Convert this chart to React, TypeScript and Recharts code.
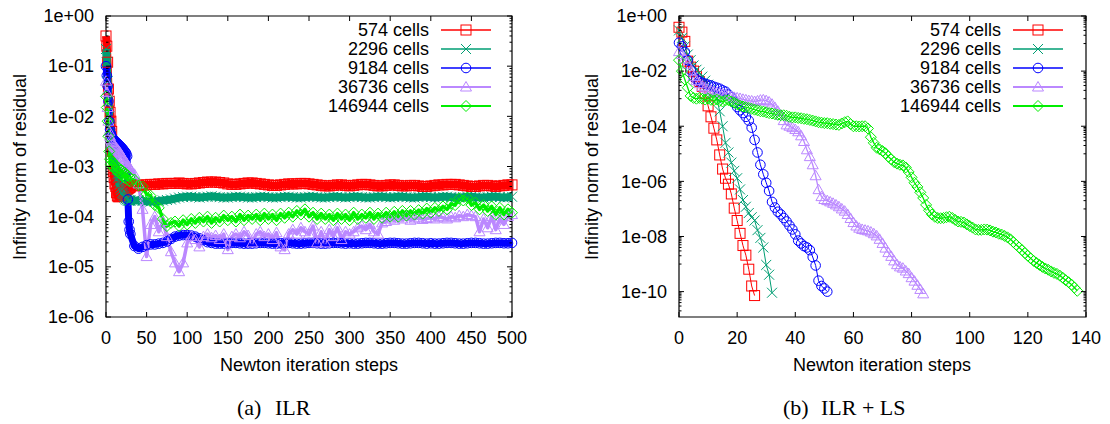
import React from 'react';
import { LineChart, Line, XAxis, YAxis, ReferenceArea, Legend } from 'recharts';

const RED = '#ff0000';
const TEAL = '#009e73';
const BLUE = '#0000ff';
const PURPLE = '#bb88ff';
const GREEN = '#00ee00';
const SANS = "'Liberation Sans', Arial, sans-serif";
const SERIF = "'Liberation Serif', 'Times New Roman', serif";

const seriesNames = ['574 cells', '2296 cells', '9184 cells', '36736 cells', '146944 cells'];

// (a) ILR -- Newton steps, sampled (every step up to 30, then every 5)
const stepsA = [
  0, 1, 2, 3, 4, 5, 6, 7, 8, 9, 10, 11, 12, 13, 14, 15, 16, 17, 18, 19, 20, 21, 22, 23, 24, 25, 26, 27, 28, 29, 30,
  35, 40, 45, 50, 55, 60, 65, 70, 75, 80, 85, 90, 95, 100,
  105, 110, 115, 120, 125, 130, 135, 140, 145, 150, 155, 160, 165, 170, 175, 180, 185, 190, 195, 200,
  205, 210, 215, 220, 225, 230, 235, 240, 245, 250, 255, 260, 265, 270, 275, 280, 285, 290, 295, 300,
  305, 310, 315, 320, 325, 330, 335, 340, 345, 350, 355, 360, 365, 370, 375, 380, 385, 390, 395, 400,
  405, 410, 415, 420, 425, 430, 435, 440, 445, 450, 455, 460, 465, 470, 475, 480, 485, 490, 495, 500,
];

const ilr574 = [
  0.4, 0.25, 0.12, 0.035, 0.02, 0.012, 0.008, 0.005, 0.002, 8e-4, 6e-4, 4.5e-4, 4e-4, 3e-4, 2.6e-4, 2.5e-4, 2.5e-4, 2.6e-4, 2.7e-4, 2.8e-4, 2.9e-4, 3e-4, 3.1e-4, 3.2e-4, 3.3e-4, 3.4e-4, 3.5e-4, 3.6e-4, 3.7e-4, 3.8e-4, 3.9e-4,
  4.1e-4, 4.2e-4, 4.3e-4, 4.3e-4, 4.4e-4, 4.4e-4, 4.5e-4, 4.5e-4, 4.6e-4, 4.6e-4, 4.6e-4, 4.7e-4, 4.6e-4, 4.5e-4,
  4.5e-4, 4.6e-4, 4.7e-4, 4.8e-4, 4.9e-4, 4.9e-4, 4.9e-4, 4.8e-4, 4.7e-4, 4.5e-4, 4.4e-4, 4.4e-4, 4.5e-4, 4.6e-4, 4.7e-4, 4.7e-4, 4.6e-4, 4.5e-4, 4.4e-4, 4.3e-4,
  4.2e-4, 4.2e-4, 4.3e-4, 4.4e-4, 4.5e-4, 4.5e-4, 4.5e-4, 4.6e-4, 4.6e-4, 4.5e-4, 4.4e-4, 4.3e-4, 4.2e-4, 4.1e-4, 4.1e-4, 4.2e-4, 4.3e-4, 4.3e-4, 4.2e-4, 4.1e-4,
  4.2e-4, 4.3e-4, 4.4e-4, 4.4e-4, 4.3e-4, 4.2e-4, 4.1e-4, 4.1e-4, 4.2e-4, 4.3e-4, 4.3e-4, 4.2e-4, 4.1e-4, 4.1e-4, 4.2e-4, 4.2e-4, 4.1e-4, 4.0e-4, 4.0e-4, 4.1e-4,
  4.2e-4, 4.3e-4, 4.3e-4, 4.4e-4, 4.4e-4, 4.4e-4, 4.3e-4, 4.2e-4, 4.1e-4, 4.0e-4, 4.0e-4, 4.1e-4, 4.2e-4, 4.2e-4, 4.1e-4, 4.0e-4, 4.1e-4, 4.2e-4, 4.3e-4, 4.3e-4,
];

const ilr2296 = [
  0.22, 0.12, 0.05, 0.02, 0.01, 6e-3, 4e-3, 3e-3, 2.3e-3, 1.8e-3, 1.4e-3, 1.2e-3, 1e-3, 8.5e-4, 7e-4, 6e-4, 5e-4, 4.4e-4, 3.8e-4, 3.4e-4, 3e-4, 2.8e-4, 2.6e-4, 2.4e-4, 2.3e-4, 2.2e-4, 2.2e-4, 2.1e-4, 2.1e-4, 2.1e-4, 2.1e-4,
  2.1e-4, 2.1e-4, 2.05e-4, 2.0e-4, 2.0e-4, 2.0e-4, 2.05e-4, 2.1e-4, 2.15e-4, 2.2e-4, 2.3e-4, 2.4e-4, 2.45e-4, 2.5e-4,
  2.5e-4, 2.45e-4, 2.4e-4, 2.45e-4, 2.5e-4, 2.55e-4, 2.5e-4, 2.45e-4, 2.4e-4, 2.4e-4, 2.45e-4, 2.5e-4, 2.5e-4, 2.45e-4, 2.4e-4, 2.4e-4, 2.45e-4, 2.5e-4, 2.5e-4, 2.45e-4,
  2.4e-4, 2.4e-4, 2.45e-4, 2.5e-4, 2.5e-4, 2.45e-4, 2.4e-4, 2.4e-4, 2.45e-4, 2.5e-4, 2.5e-4, 2.45e-4, 2.4e-4, 2.4e-4, 2.45e-4, 2.5e-4, 2.5e-4, 2.45e-4, 2.4e-4, 2.45e-4,
  2.5e-4, 2.5e-4, 2.45e-4, 2.4e-4, 2.4e-4, 2.45e-4, 2.5e-4, 2.5e-4, 2.45e-4, 2.4e-4, 2.45e-4, 2.5e-4, 2.5e-4, 2.45e-4, 2.4e-4, 2.4e-4, 2.45e-4, 2.5e-4, 2.5e-4, 2.45e-4,
  2.4e-4, 2.45e-4, 2.5e-4, 2.5e-4, 2.45e-4, 2.4e-4, 2.4e-4, 2.45e-4, 2.5e-4, 2.5e-4, 2.45e-4, 2.4e-4, 2.4e-4, 2.45e-4, 2.5e-4, 2.5e-4, 2.45e-4, 2.4e-4, 2.45e-4, 2.5e-4,
];

const ilr9184 = [
  0.1, 0.065, 0.04, 0.02, 0.008, 5.5e-3, 4.5e-3, 4e-3, 3.7e-3, 3.5e-3, 3.3e-3, 3.2e-3, 3.1e-3, 3e-3, 2.9e-3, 2.8e-3, 2.7e-3, 2.6e-3, 2.5e-3, 2.4e-3, 2.3e-3, 2.2e-3, 2.1e-3, 2e-3, 1.9e-3, 1.8e-3, 1.6e-3, 2.2e-4, 8e-5, 5.5e-5, 4.5e-5,
  2.6e-5, 2.3e-5, 2.5e-5, 2.7e-5, 2.8e-5, 2.8e-5, 2.9e-5, 3e-5, 3.2e-5, 3.6e-5, 4e-5, 4.2e-5, 4.3e-5, 4.3e-5,
  4.2e-5, 4e-5, 3.7e-5, 3.4e-5, 3.1e-5, 3e-5, 2.9e-5, 2.9e-5, 2.9e-5, 2.95e-5, 3e-5, 3e-5, 2.95e-5, 2.9e-5, 2.9e-5, 2.9e-5, 2.95e-5, 3e-5, 3e-5, 2.95e-5,
  2.9e-5, 2.9e-5, 2.95e-5, 3e-5, 3e-5, 2.95e-5, 2.9e-5, 2.9e-5, 2.95e-5, 3e-5, 3e-5, 2.95e-5, 2.9e-5, 2.9e-5, 2.95e-5, 3e-5, 3e-5, 2.95e-5, 2.9e-5, 2.95e-5,
  2.9e-5, 2.9e-5, 2.95e-5, 3e-5, 3e-5, 2.95e-5, 2.9e-5, 2.9e-5, 2.95e-5, 3e-5, 3e-5, 2.95e-5, 2.9e-5, 2.9e-5, 2.95e-5, 3e-5, 3e-5, 2.95e-5, 2.9e-5, 2.95e-5,
  2.9e-5, 2.9e-5, 2.95e-5, 3e-5, 3e-5, 2.95e-5, 2.9e-5, 2.9e-5, 2.95e-5, 3e-5, 3e-5, 2.95e-5, 2.9e-5, 2.9e-5, 2.95e-5, 3e-5, 3e-5, 2.95e-5, 2.95e-5, 3e-5,
];

const ilr36736 = [
  0.05, 0.03, 0.015, 8e-3, 5e-3, 4e-3, 3.5e-3, 3.2e-3, 3e-3, 2.8e-3, 2.6e-3, 2.5e-3, 2.4e-3, 2.3e-3, 2.2e-3, 2.1e-3, 2e-3, 1.9e-3, 1.8e-3, 1.7e-3, 1.6e-3, 1.5e-3, 1.4e-3, 1.3e-3, 1.25e-3, 1.2e-3, 1.1e-3, 1.05e-3, 1e-3, 9.5e-4, 9e-4,
  7e-4, 4.5e-4, 1.4e-4, 1.6e-5, 7e-5, 1e-4, 5e-5, 8e-5, 4e-5, 2e-5, 1.2e-5, 8e-6, 1.2e-5, 3e-5,
  4e-5, 3.5e-5, 2.5e-5, 4e-5, 4.5e-5, 3.8e-5, 4.2e-5, 3.5e-5, 4.5e-5, 2.2e-5, 4e-5, 4.5e-5, 3.8e-5, 5e-5, 4.2e-5, 3e-5, 4.5e-5, 5e-5, 4e-5, 4.5e-5,
  3.5e-5, 4.8e-5, 2.5e-5, 2.2e-5, 4.5e-5, 5.5e-5, 4.5e-5, 6e-5, 5e-5, 4.5e-5, 6.5e-5, 3e-5, 5e-5, 3e-5, 5.5e-5, 4e-5, 6e-5, 3.5e-5, 5e-5, 4.5e-5,
  5e-5, 6e-5, 6.5e-5, 5.5e-5, 7e-5, 5e-5, 4.5e-5, 7.5e-5, 8e-5, 9e-5, 8.5e-5, 9.5e-5, 9e-5, 1e-4, 8.5e-5, 9e-5, 9.5e-5, 8.8e-5, 9.2e-5, 9.5e-5,
  9e-5, 1e-4, 9.5e-5, 9e-5, 1e-4, 9.5e-5, 1.05e-4, 1e-4, 1.1e-4, 1.05e-4, 1e-4, 5e-5, 9e-5, 6e-5, 1e-4, 5.5e-5, 9e-5, 7e-5, 1e-4, 1.1e-4,
];

const ilr146944 = [
  0.025, 0.015, 8e-3, 4e-3, 2e-3, 1.4e-3, 1.1e-3, 1.3e-3, 1e-3, 1.2e-3, 9e-4, 1.1e-3, 8.5e-4, 1e-3, 8e-4, 9.5e-4, 7.5e-4, 9e-4, 7e-4, 8.5e-4, 6.5e-4, 8e-4, 6.2e-4, 7.5e-4, 6e-4, 7e-4, 5.6e-4, 6.6e-4, 5.2e-4, 6.2e-4, 5e-4,
  5.5e-4, 4.2e-4, 4e-4, 2.8e-4, 2.6e-4, 1.7e-4, 1.5e-4, 9e-5, 6.5e-5, 7.5e-5, 8e-5, 6.5e-5, 8.5e-5, 7e-5,
  9e-5, 7.5e-5, 9.5e-5, 8e-5, 1e-4, 7.5e-5, 9.5e-5, 8e-5, 1.05e-4, 8.5e-5, 1e-4, 8e-5, 1.1e-4, 8.5e-5, 1.05e-4, 9e-5, 1.1e-4, 8.5e-5, 1.15e-4, 9e-5,
  1.1e-4, 8.5e-5, 1.15e-4, 9.5e-5, 1.2e-4, 1e-4, 1.3e-4, 1.1e-4, 1.4e-4, 1e-4, 1.2e-4, 9e-5, 1.15e-4, 9e-5, 1.1e-4, 8.5e-5, 1.15e-4, 9e-5, 1.1e-4, 8.5e-5,
  1.2e-4, 9e-5, 1.1e-4, 9.5e-5, 1.2e-4, 9e-5, 1.15e-4, 9.5e-5, 1.2e-4, 1e-4, 1.25e-4, 1e-4, 1.3e-4, 1.05e-4, 1.3e-4, 1.1e-4, 1.35e-4, 1.15e-4, 1.45e-4, 1.2e-4,
  1.5e-4, 1.3e-4, 1.6e-4, 1.4e-4, 1.8e-4, 1.7e-4, 2.3e-4, 2.1e-4, 2.4e-4, 1.7e-4, 1.9e-4, 1.4e-4, 1.7e-4, 1.3e-4, 1.6e-4, 1.1e-4, 1.5e-4, 1.1e-4, 1.4e-4, 1.2e-4,
];

// (b) ILR + LS -- one value per Newton step, starting at step 0
const ls574 = [
  3.9e-1, 2.6e-1, 1.2e-1, 2.3e-2, 1.4e-2, 1e-2, 6.3e-3, 4.2e-3, 2.8e-3, 1.6e-3,
  5.5e-4, 2.2e-4, 8.5e-5, 3.2e-5, 9.1e-6, 2.8e-6, 1.3e-6, 7.9e-7, 3.5e-7, 1.07e-7,
  3.8e-8, 1.3e-8, 4.7e-9, 2.1e-9, 6.5e-10, 1.6e-10, 7.2e-11,
];

const ls2296 = [
  3.0e-1, 1.6e-1, 7.9e-2, 4.0e-2, 2.5e-2, 1.6e-2, 1.12e-2, 8.9e-3, 6.3e-3, 4.5e-3,
  3.2e-3, 2.2e-3, 1.6e-3, 1.0e-3, 3.5e-4, 1.0e-4, 2.5e-5, 1.12e-5, 4.8e-6, 2.4e-6,
  1.3e-6, 5.1e-7, 2.1e-7, 1.2e-7, 7.1e-8, 5.0e-8, 3.8e-8, 1.7e-8, 8.9e-9, 4.0e-9,
  9.3e-10, 4.1e-10, 9.1e-11,
];

const ls9184 = [
  1.07e-1, 7.9e-2, 5.0e-2, 2.5e-2, 1.12e-2, 6.3e-3, 5.0e-3, 4.2e-3, 3.8e-3, 3.5e-3,
  3.2e-3, 3.0e-3, 2.7e-3, 2.5e-3, 2.3e-3, 2.0e-3, 1.8e-3, 1.4e-3, 1.12e-3, 7.1e-4,
  5.0e-4, 3.8e-4, 3.0e-4, 2.2e-4, 1.6e-4, 8.9e-5, 3.2e-5, 1.12e-5, 4.0e-6, 1.8e-6,
  8.9e-7, 4.5e-7, 1.8e-7, 1.12e-7, 7.9e-8, 6.3e-8, 4.7e-8, 3.5e-8, 2.5e-8, 1.8e-8,
  1.2e-8, 7.1e-9, 5.6e-9, 4.5e-9, 4.0e-9, 3.2e-9, 1.8e-9, 8.9e-10, 2.5e-10, 1.6e-10,
  1.3e-10, 1.0e-10,
];

const ls36736 = [
  5.1e-2, 4.0e-2, 2.8e-2, 1.8e-2, 1.0e-2, 6.3e-3, 4.5e-3, 3.5e-3, 2.8e-3, 2.5e-3,
  2.2e-3, 2.0e-3, 1.8e-3, 1.7e-3, 1.6e-3, 1.5e-3, 1.4e-3, 1.3e-3, 1.2e-3, 1.12e-3,
  1.07e-3, 1.02e-3, 9.5e-4, 9.1e-4, 8.5e-4, 8.3e-4, 7.9e-4, 8.3e-4, 8.9e-4, 9.1e-4,
  8.5e-4, 7.6e-4, 6.3e-4, 4.8e-4, 3.5e-4, 2.5e-4, 1.6e-4, 1.12e-4, 1.0e-4, 8.9e-5,
  7.6e-5, 6.3e-5, 4.5e-5, 2.8e-5, 1.4e-5, 7.9e-6, 4.0e-6, 1.6e-6, 5.0e-7, 2.8e-7,
  2.2e-7, 2.0e-7, 1.8e-7, 1.6e-7, 1.4e-7, 1.2e-7, 1.0e-7, 8.3e-8, 6.3e-8, 4.5e-8,
  3.2e-8, 2.4e-8, 2.0e-8, 1.8e-8, 1.7e-8, 1.6e-8, 1.45e-8, 1.26e-8, 1.05e-8, 7.9e-9,
  5.6e-9, 3.8e-9, 2.6e-9, 1.9e-9, 1.3e-9, 9.5e-10, 7.9e-10, 7.1e-10, 5.6e-10, 4.5e-10,
  3.2e-10, 2.4e-10, 1.7e-10, 1.2e-10, 8.3e-11,
];

const ls146944 = [
  2.5e-2, 1.0e-2, 5.0e-3, 2.5e-3, 1.26e-3, 1.07e-3, 1.0e-3, 1.07e-3, 1.0e-3, 9.3e-4,
  1.0e-3, 9.1e-4, 8.7e-4, 9.3e-4, 8.3e-4, 7.9e-4, 8.7e-4, 8.9e-4, 7.9e-4, 7.1e-4,
  6.3e-4, 5.6e-4, 5.2e-4, 4.9e-4, 4.6e-4, 4.3e-4, 4.0e-4, 3.8e-4, 3.5e-4, 3.4e-4,
  3.2e-4, 3.0e-4, 2.9e-4, 2.75e-4, 2.6e-4, 2.5e-4, 2.5e-4, 2.4e-4, 2.2e-4, 2.1e-4,
  2.1e-4, 2.0e-4, 1.95e-4, 1.86e-4, 1.8e-4, 1.7e-4, 1.6e-4, 1.5e-4, 1.4e-4, 1.35e-4,
  1.3e-4, 1.29e-4, 1.23e-4, 1.2e-4, 1.15e-4, 1.12e-4, 1.26e-4, 1.4e-4, 1.5e-4, 1.2e-4,
  1.0e-4, 1.0e-4, 9.8e-5, 1.0e-4, 1.0e-4, 8.3e-5, 4.0e-5, 2.5e-5, 1.66e-5, 1.45e-5,
  1.26e-5, 1.05e-5, 7.9e-6, 6.3e-6, 5.0e-6, 4.4e-6, 4.0e-6, 3.8e-6, 3.2e-6, 2.2e-6,
  1.4e-6, 8.9e-7, 6.3e-7, 4.0e-7, 2.5e-7, 1.4e-7, 8.9e-8, 6.3e-8, 5.2e-8, 4.7e-8,
  4.6e-8, 4.7e-8, 5.0e-8, 5.2e-8, 4.7e-8, 4.0e-8, 3.5e-8, 3.4e-8, 3.2e-8, 2.75e-8,
  2.4e-8, 2.1e-8, 1.8e-8, 1.74e-8, 1.74e-8, 1.8e-8, 1.78e-8, 1.66e-8, 1.5e-8, 1.4e-8,
  1.26e-8, 1.17e-8, 1.05e-8, 9.3e-9, 7.9e-9, 6.3e-9, 5.0e-9, 4.0e-9, 3.2e-9, 2.5e-9,
  2.0e-9, 1.6e-9, 1.3e-9, 1.1e-9, 9.3e-10, 7.9e-10, 6.9e-10, 6.2e-10, 5.4e-10, 4.8e-10,
  4.4e-10, 3.8e-10, 3.2e-10, 2.6e-10, 2.2e-10, 1.8e-10, 1.4e-10, 1.07e-10,
];

// axes
const xTicksA = [0, 50, 100, 150, 200, 250, 300, 350, 400, 450, 500];
const xTicksB = [0, 20, 40, 60, 80, 100, 120, 140];
const yTicksA = [1, 1e-1, 1e-2, 1e-3, 1e-4, 1e-5, 1e-6];
const yLabelsA = ['1e+00', '1e-01', '1e-02', '1e-03', '1e-04', '1e-05', '1e-06'];
const yTicksB = [1, 1e-2, 1e-4, 1e-6, 1e-8, 1e-10];
const yLabelsB = ['1e+00', '1e-02', '1e-04', '1e-06', '1e-08', '1e-10'];

// gnuplot style minor tics: 2..9 per decade (a), 1..9 x 10^odd (b)
const minorA: number[] = [];
for (let e = 1; e <= 6; e++) for (let m = 2; m <= 9; m++) minorA.push(m * Math.pow(10, -e));
const minorB: number[] = [];
for (let e = 1; e <= 11; e += 2) for (let m = 1; m <= 9; m++) if (e < 11 || m > 1) minorB.push(m * Math.pow(10, -e));

type Shape = 'square' | 'cross' | 'circle' | 'triangle' | 'diamond';
const styles: { key: string; color: string; shape: Shape; bandA: number; lineB: number; legendW: number }[] = [
  { key: 's574', color: RED, shape: 'square', bandA: 8, lineB: 1, legendW: 1.3 },
  { key: 's2296', color: TEAL, shape: 'cross', bandA: 8, lineB: 1, legendW: 1.3 },
  { key: 's9184', color: BLUE, shape: 'circle', bandA: 7, lineB: 1, legendW: 1.3 },
  { key: 's36736', color: PURPLE, shape: 'triangle', bandA: 3.5, lineB: 1.3, legendW: 2 },
  { key: 's146944', color: GREEN, shape: 'diamond', bandA: 3.5, lineB: 1.3, legendW: 2 },
];

const dataA = stepsA.map((step, i) => ({
  step, s574: ilr574[i], s2296: ilr2296[i], s9184: ilr9184[i], s36736: ilr36736[i], s146944: ilr146944[i],
}));
const dataB = ls146944.map((_, step) => ({
  step, s574: ls574[step], s2296: ls2296[step], s9184: ls9184[step], s36736: ls36736[step], s146944: ls146944[step],
}));

function Marker({ shape, cx, cy, color }: { shape: Shape; cx: number; cy: number; color: string }) {
  const c = { fill: 'none', stroke: color, strokeWidth: 1 };
  switch (shape) {
    case 'square':
      return <rect x={cx - 5} y={cy - 5} width={10} height={10} {...c} />;
    case 'cross':
      return (
        <g {...c}>
          <line x1={cx - 5} y1={cy - 5} x2={cx + 5} y2={cy + 5} />
          <line x1={cx - 5} y1={cy + 5} x2={cx + 5} y2={cy - 5} />
        </g>
      );
    case 'circle':
      return <circle cx={cx} cy={cy} r={4.8} {...c} />;
    case 'triangle':
      return <polygon points={`${cx},${cy - 5.5} ${cx - 5.5},${cy + 4} ${cx + 5.5},${cy + 4}`} {...c} />;
    default:
      return <polygon points={`${cx},${cy - 5.5} ${cx + 5.5},${cy} ${cx},${cy + 5.5} ${cx - 5.5},${cy}`} {...c} />;
  }
}

interface Geom { left: number; right: number; top: number; bottom: number }

function makeXTick(g: Geom) {
  return (props: any) => {
    const { x, payload } = props;
    return (
      <g>
        <line x1={x} x2={x} y1={g.bottom} y2={g.bottom - 5} stroke="#000" />
        <line x1={x} x2={x} y1={g.top} y2={g.top + 5} stroke="#000" />
        <text x={x} y={g.bottom + 26.5} textAnchor="middle" fontFamily={SANS} fontSize={18} fill="#000">
          {payload.value}
        </text>
      </g>
    );
  };
}

function makeYTick(g: Geom, majors: number[], labels: string[]) {
  return (props: any) => {
    const { y, payload } = props;
    const idx = majors.findIndex((m) => Math.abs(Math.log10(payload.value / m)) < 1e-6);
    const len = idx >= 0 ? 5 : 2.5;
    return (
      <g>
        <line x1={g.left} x2={g.left + len} y1={y} y2={y} stroke="#000" />
        <line x1={g.right - len} x2={g.right} y1={y} y2={y} stroke="#000" />
        {idx >= 0 && (
          <text x={g.left - 12} y={y} dy="0.35em" textAnchor="end" fontFamily={SANS} fontSize={18} fill="#000">
            {labels[idx]}
          </text>
        )}
      </g>
    );
  };
}

function LegendBox({ lineX }: { lineX: number }) {
  return (
    <svg width={210} height={110} style={{ display: 'block', overflow: 'visible' }}>
      {styles.map((s, i) => {
        const y = 12 + i * 19;
        return (
          <g key={s.key}>
            <text x={lineX - 12} y={y} dy="0.35em" textAnchor="end" fontFamily={SANS} fontSize={18} fill="#000">
              {seriesNames[i]}
            </text>
            <line x1={lineX} x2={lineX + 50} y1={y} y2={y} stroke={s.color} strokeWidth={s.legendW} />
            <Marker shape={s.shape} cx={lineX + 25} cy={y} color={s.color} />
          </g>
        );
      })}
    </svg>
  );
}

function dotFor(shape: Shape, color: string) {
  return (p: any) => {
    if (p.cx == null || p.cy == null || p.value == null) return <g key={`e${p.index}`} />;
    return (
      <g key={`d${p.index}`}>
        <Marker shape={shape} cx={p.cx} cy={p.cy} color={color} />
      </g>
    );
  };
}

const geomA: Geom = { left: 106, right: 512, top: 16, bottom: 317 };
const geomB: Geom = { left: 124, right: 531, top: 16, bottom: 317 };

function PanelA() {
  return (
    <LineChart width={560} height={424} data={dataA} margin={{ top: 16, right: 48, bottom: 0, left: 0 }}>
      <XAxis type="number" dataKey="step" domain={[0, 500]} ticks={xTicksA} interval={0}
        tick={makeXTick(geomA)} tickLine={false} axisLine={false} height={107} />
      <YAxis type="number" scale="log" domain={[1e-6, 1]} ticks={[...yTicksA, ...minorA]} interval={0}
        tick={makeYTick(geomA, yTicksA, yLabelsA)} tickLine={false} axisLine={false} width={106} />
      <ReferenceArea x1={0} x2={500} y1={1e-6} y2={1} fill="none" fillOpacity={0} stroke="#000" strokeWidth={1.2} />
      {styles.map((s) => (
        <Line key={s.key} dataKey={s.key} stroke={s.color} strokeWidth={s.bandA} strokeLinejoin="round"
          dot={dotFor(s.shape, s.color)} activeDot={false} isAnimationActive={false} legendType="none" />
      ))}
      <Legend layout="horizontal" verticalAlign="middle" align="center"
        wrapperStyle={{ left: 300, top: 18, width: 210, height: 110 }}
        content={() => <LegendBox lineX={141} />} />
    </LineChart>
  );
}

function PanelB() {
  return (
    <LineChart width={555} height={424} data={dataB} margin={{ top: 16, right: 24, bottom: 0, left: 0 }}>
      <XAxis type="number" dataKey="step" domain={[0, 140]} ticks={xTicksB} interval={0}
        tick={makeXTick(geomB)} tickLine={false} axisLine={false} height={107} />
      <YAxis type="number" scale="log" domain={[1.2e-11, 1]} ticks={[...yTicksB, ...minorB]} interval={0}
        tick={makeYTick(geomB, yTicksB, yLabelsB)} tickLine={false} axisLine={false} width={124} />
      <ReferenceArea x1={0} x2={140} y1={1.2e-11} y2={1} fill="none" fillOpacity={0} stroke="#000" strokeWidth={1.2} />
      {styles.map((s) => (
        <Line key={s.key} dataKey={s.key} stroke={s.color} strokeWidth={s.lineB}
          dot={dotFor(s.shape, s.color)} activeDot={false} isAnimationActive={false} legendType="none" />
      ))}
      <Legend layout="horizontal" verticalAlign="middle" align="center"
        wrapperStyle={{ left: 316, top: 18, width: 210, height: 110 }}
        content={() => <LegendBox lineX={142} />} />
    </LineChart>
  );
}

export default function App() {
  return (
    <div style={{ position: 'absolute', left: 0, top: 0, width: 1110, height: 424, background: '#fff', overflow: 'hidden' }}>
      <div style={{ position: 'absolute', left: 0, top: 0 }}>
        <PanelA />
      </div>
      <div style={{ position: 'absolute', left: 555, top: 0 }}>
        <PanelB />
      </div>
      <svg width={1110} height={424} style={{ position: 'absolute', left: 0, top: 0, pointerEvents: 'none' }}>
        <g fontFamily={SANS} fontSize={18} fill="#000">
          <text transform="translate(20,167) rotate(-90)" textAnchor="middle" dy="0.35em">Infinity norm of residual</text>
          <text transform="translate(592,167) rotate(-90)" textAnchor="middle" dy="0.35em">Infinity norm of residual</text>
          <text x={309} y={371} textAnchor="middle">Newton iteration steps</text>
          <text x={882} y={371} textAnchor="middle">Newton iteration steps</text>
        </g>
        <g fontFamily={SERIF} fontSize={22} fill="#000">
          <text x={237} y={415}>(a)</text>
          <text x={275} y={415}>ILR</text>
          <text x={783} y={415}>(b)</text>
          <text x={821} y={415}>ILR + LS</text>
        </g>
      </svg>
    </div>
  );
}
